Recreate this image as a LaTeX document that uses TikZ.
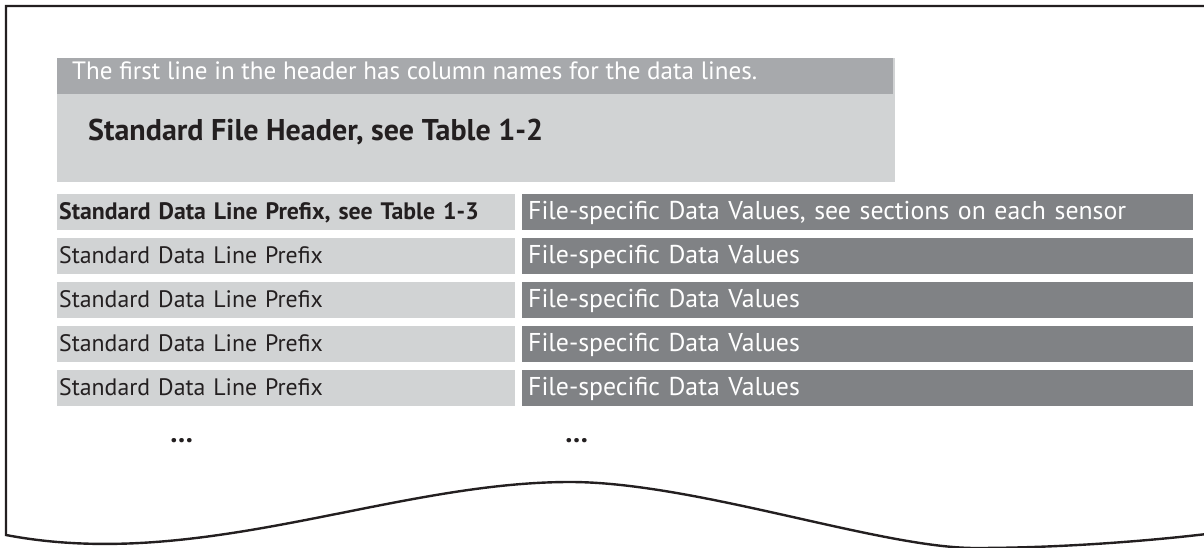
\documentclass[tikz,border=0pt]{standalone}
\usepackage{fontspec}
\setmainfont{PT Sans}
\definecolor{ink}{HTML}{231F20}
\definecolor{hdark}{HTML}{A7A9AC}
\definecolor{hlight}{HTML}{D1D3D4}
\definecolor{vdark}{HTML}{808285}
\newlength\fitlen
\newcommand\fitsize[3]{%
  \settowidth\fitlen{\fontsize{20}{20}\selectfont #3}%
  \pgfmathsetmacro#1{20*#2/\fitlen}%
  \global\let#1#1}
\begin{document}
\fitsize{\szStrip}{685}{The first line in the header has column names for the data lines.}%
\fitsize{\szHead}{455}{\bfseries Standard File Header, see Table 1-2}%
\fitsize{\szPre}{259}{Standard Data Line Prefix}%
\fitsize{\szVal}{586}{File-specific Data Values, see sections on each sensor}%
\fitsize{\szDots}{23}{\bfseries …}%
\begin{tikzpicture}[x=1pt,y=-1pt,
  cell/.style={anchor=north west,inner ysep=0pt,minimum height=36pt,align=left,
    text height=17pt,text depth=3pt},
  pcell/.style={cell,fill=hlight,text=ink,inner xsep=2pt,text width=454pt,
    font=\fontsize{\szPre}{\szPre}\selectfont},
  vcell/.style={cell,fill=vdark,text=white,inner xsep=6pt,text width=659pt,
    font=\fontsize{\szVal}{\szVal}\selectfont},
  dots/.style={inner sep=0pt,text=ink,font=\fontsize{\szDots}{\szDots}\selectfont\bfseries}]
\useasboundingbox (0,0) rectangle (1204,548);
% header
\node[anchor=north west,fill=hlight,minimum width=838pt,minimum height=124pt,inner sep=0pt] (hdr) at (57,58) {};
\node[anchor=north west,fill=hdark,minimum width=836pt,minimum height=36pt,inner sep=0pt] (strip) at (57,58) {};
\node[anchor=base west,text=white,inner sep=0pt,font=\fontsize{\szStrip}{\szStrip}\selectfont] (striptxt) at (72,80) {The first line in the header has column names for the data lines.};
\node[anchor=base west,text=ink,inner sep=0pt,font=\fontsize{\szHead}{\szHead}\selectfont\bfseries] (hdrtxt) at (88,141) {Standard File Header, see Table 1-2};
% rows
\node[pcell] (p1) at (57,194) {\bfseries Standard Data Line Prefix, see Table 1-3};
\node[vcell] (v1) at (522,194) {File-specific Data Values, see sections on each sensor};
\foreach \i in {2,3,4,5}{
  \node[pcell] (p\i) at (57,{194+44*(\i-1)}) {Standard Data Line Prefix};
  \node[vcell] (v\i) at (522,{194+44*(\i-1)}) {File-specific Data Values};
}
\node[dots] (d1) at (181.5,441) {…};
\node[dots] (d2) at (576.5,441) {…};
% border with torn bottom
\draw[ink,line width=2.4pt,line join=miter]
  (1215,6) -- (6,6) -- (6,535)
  .. controls (200,572) and (390,482) .. (570,482)
  .. controls (695,482) and (880,548) .. (975,548)
  .. controls (1060,548) and (1150,541) .. (1215,533);
\end{tikzpicture}
\end{document}
